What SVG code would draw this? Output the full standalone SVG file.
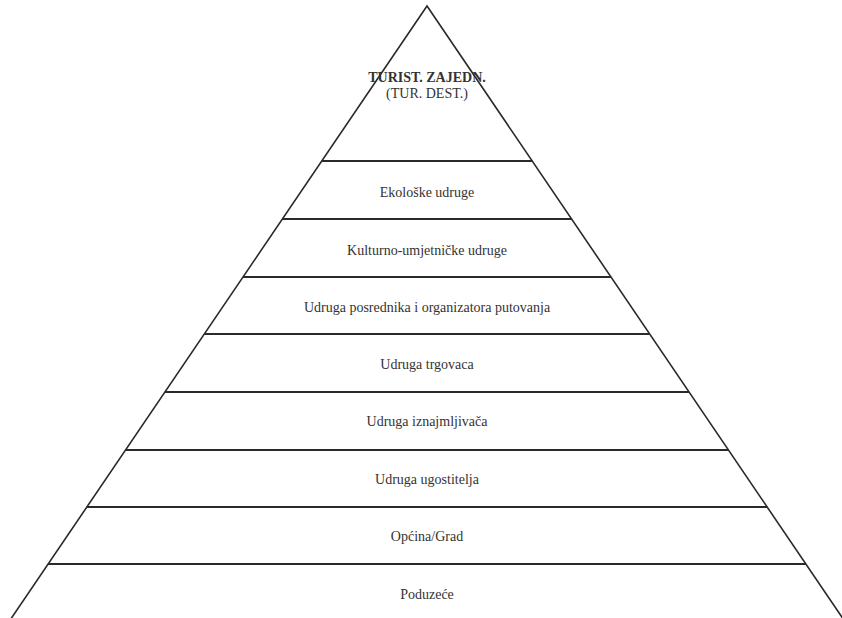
<svg xmlns="http://www.w3.org/2000/svg" width="842" height="618" viewBox="0 0 842 618">
<style>
.edge{stroke:#2a2a2a;stroke-width:1.6;fill:none;stroke-linecap:round}
.sep{stroke:#2a2a2a;stroke-width:2;fill:none}
text{font-family:'Liberation Serif','DejaVu Serif','Times New Roman',serif;font-size:14px;fill:#333;text-anchor:middle}
.ttl{font-weight:bold}
</style>
<rect width="842" height="618" fill="#fff"/>
<g id="connectors">
<path class="edge" d="M11.5,618 L427,6 L842.5,618"/>
</g>
<g id="apex">
<text class="ttl" x="427" y="82">TURIST. ZAJEDN.</text>
<text x="427" y="98">(TUR. DEST.)</text>
</g>
<g id="layer-ekoloske">
<line class="sep" x1="321.8" y1="161" x2="532.2" y2="161"/>
<text x="427" y="197">Ekološke udruge</text>
</g>
<g id="layer-kulturno">
<line class="sep" x1="282.4" y1="219" x2="571.6" y2="219"/>
<text x="427" y="255">Kulturno-umjetničke udruge</text>
</g>
<g id="layer-posrednika">
<line class="sep" x1="243" y1="277" x2="611" y2="277"/>
<text x="427" y="312">Udruga posrednika i organizatora putovanja</text>
</g>
<g id="layer-trgovaca">
<line class="sep" x1="204.3" y1="334" x2="649.7" y2="334"/>
<text x="427" y="369">Udruga trgovaca</text>
</g>
<g id="layer-iznajmljivaca">
<line class="sep" x1="164.9" y1="392" x2="689.1" y2="392"/>
<text x="427" y="426">Udruga iznajmljivača</text>
</g>
<g id="layer-ugostitelja">
<line class="sep" x1="125.5" y1="450" x2="728.5" y2="450"/>
<text x="427" y="484">Udruga ugostitelja</text>
</g>
<g id="layer-opcina">
<line class="sep" x1="86.8" y1="507" x2="767.2" y2="507"/>
<text x="427" y="541">Općina/Grad</text>
</g>
<g id="layer-poduzece">
<line class="sep" x1="48.1" y1="564" x2="805.9" y2="564"/>
<text x="427" y="599">Poduzeće</text>
</g>
</svg>
